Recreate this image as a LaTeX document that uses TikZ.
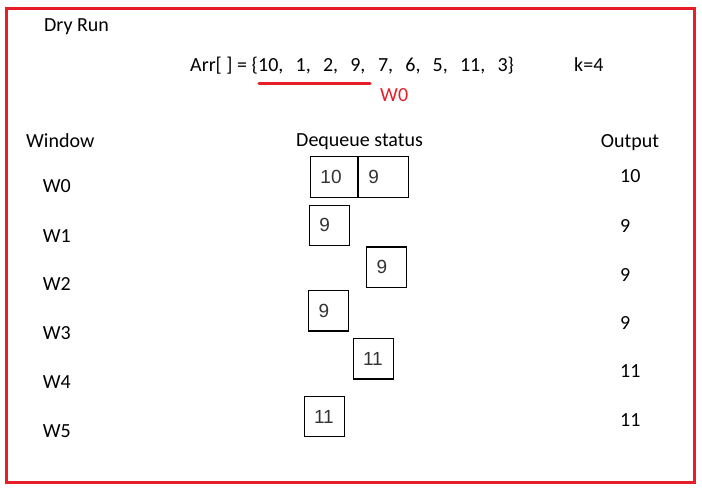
\documentclass[tikz,border=0pt]{standalone}
\usepackage{fontspec}
\setmainfont{Carlito}
\newfontfamily\boxfont{Liberation Sans}
\definecolor{framered}{RGB}{230,30,40}
\tikzset{
  lbl/.style={anchor=base west, inner sep=0pt, font=\fontsize{20}{24}\selectfont},
  dqbox/.style={draw, line width=1.2pt, minimum height=40.3pt, inner xsep=9.75pt, inner ysep=0pt,
    font=\boxfont\fontsize{19}{21}\selectfont, text=black!80},
  uline/.style={framered, line width=3pt, line cap=round},
}
\newcommand{\dqtext}[2][20.5pt]{\makebox[#1][l]{#2}}
\begin{document}
\begin{tikzpicture}[x=1pt,y=-1pt]
  \useasboundingbox (0,0) rectangle (702,490);
  \draw[framered, line width=3.5pt] (6.5,8.3) rectangle (694.5,482.5);
  \node[lbl] (dry) at (44,31.7) {Dry Run};
  \node[lbl] (arr) at (190,71.7) {Arr[ ] = \{};
  \node[lbl] (win) at (arr.base east) {10,\hspace{12.2pt}1,\hspace{12.2pt}2,\hspace{12.2pt}9,};
  \node[lbl] (rest) at (win.base east) {\hspace{12.2pt}7,\hspace{12.2pt}6,\hspace{12.2pt}5,\hspace{12.2pt}11,\hspace{12.2pt}3\}};
  \node[lbl] (k) at (574,71.7) {k=4};
  \draw[uline] ([xshift=1pt,yshift=-11.6pt]win.base west) -- ([xshift=4.5pt,yshift=-11.6pt]win.base east);
  \node[lbl, text=framered] (w0red) at (380,101.7) {W0};
  \node[lbl] (hwin) at (26,147.5) {Window};
  \node[lbl] (hdq) at (296,146.7) {Dequeue status};
  \node[lbl] (hout) at (600.7,147.5) {Output};
  \node[lbl] (w0) at (42.7,192.7) {W0};
  \node[lbl] (w1) at (42.7,242.7) {W1};
  \node[lbl] (w2) at (42.7,290) {W2};
  \node[lbl] (w3) at (42.7,339) {W3};
  \node[lbl] (w4) at (42.7,388) {W4};
  \node[lbl] (w5) at (42.7,437) {W5};
  \node[dqbox] (b0a) at (334,177) {\dqtext[27.1pt]{10}};
  \node[dqbox, anchor=west] (b0b) at (b0a.east) {\dqtext[30.2pt]{9}};
  \node[dqbox] (b1) at (329.5,225.3) {\dqtext{9}};
  \node[dqbox] (b2) at (386.8,267.2) {\dqtext{9}};
  \node[dqbox] (b3) at (328.8,310.8) {\dqtext{9}};
  \node[dqbox] (b4) at (373.3,358.8) {\dqtext{11}};
  \node[dqbox] (b5) at (324.3,416.7) {\dqtext{11}};
  \node[lbl] (o0) at (620,182.7) {10};
  \node[lbl] (o1) at (620,232.7) {9};
  \node[lbl] (o2) at (620,281) {9};
  \node[lbl] (o3) at (620,329) {9};
  \node[lbl] (o4) at (620,377.7) {11};
  \node[lbl] (o5) at (620,426) {11};
\end{tikzpicture}
\end{document}
